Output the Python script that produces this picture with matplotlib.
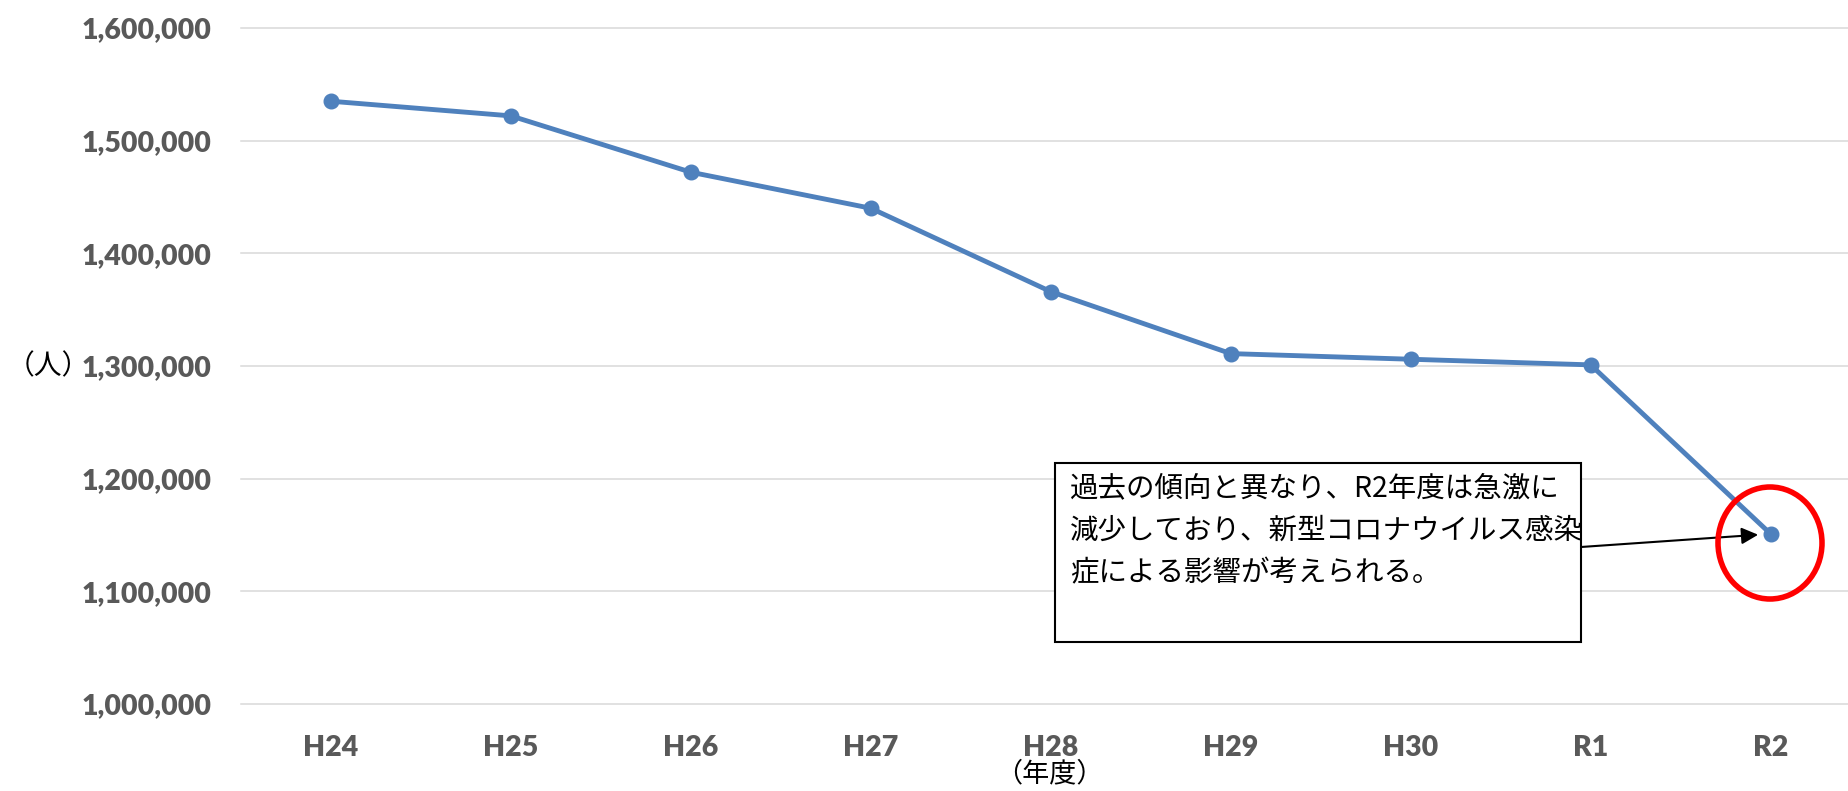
import matplotlib
matplotlib.use("Agg")
import matplotlib.pyplot as plt
from matplotlib.patches import Rectangle, Ellipse
from matplotlib.ticker import FuncFormatter

# data
years = ["H24", "H25", "H26", "H27", "H28", "H29", "H30", "R1", "R2"]
people = [1535000, 1522000, 1472000, 1440000, 1366000, 1311000, 1306000, 1301000, 1151000]
y_ticks = [1000000, 1100000, 1200000, 1300000, 1400000, 1500000, 1600000]

note_lines = ["過去の傾向と異なり、R2年度は急激に",
              "減少しており、新型コロナウイルス感染",
              "症による影響が考えられる。"]

W, H = 1848, 791
JP = ["Noto Sans CJK JP", "DejaVu Sans"]
GREY = "#595959"


def fx(px):
    return px / W


def fy(py):
    # pixel rows counted from the top of the image
    return 1 - py / H


fig = plt.figure(figsize=(W / 100, H / 100), dpi=100)
ax = fig.add_axes([fx(241), fy(704), fx(1848 - 241), (704 - 28) / H])

x = list(range(len(years)))
ax.plot(x, people, color="#4F81BD", lw=3.5, marker="o", markersize=10.5, zorder=3)

ax.set_xlim(-0.5, 8.43)
ax.set_ylim(y_ticks[0], y_ticks[-1])
ax.set_yticks(y_ticks)
ax.yaxis.set_major_formatter(FuncFormatter(lambda v, p: "{:,.0f}".format(v)))
ax.set_xticks(x)
ax.set_xticklabels(years)

for s in ax.spines.values():
    s.set_visible(False)
ax.grid(axis="y", color="#D9D9D9", lw=1.1)
ax.set_axisbelow(True)
for g in ax.get_ygridlines():
    g.set_clip_on(False)

ax.tick_params(axis="both", length=0, colors=GREY, labelsize=20.5)
ax.tick_params(axis="y", pad=21)
ax.tick_params(axis="x", pad=22)
for lab in ax.get_xticklabels() + ax.get_yticklabels():
    lab.set_fontfamily("Lato")
    lab.set_fontweight("heavy")

# axis titles
fig.text(fx(48), fy(366), "（人）", family=JP, fontsize=20, ha="center", va="center")
fig.text(fx(1049), fy(774), "（年度）", family=JP, fontsize=19.5, ha="center", va="center")

# note box
box = Rectangle((fx(1055), fy(642)), fx(1581 - 1055), (642 - 463) / H,
                transform=fig.transFigure, facecolor="white", edgecolor="black",
                lw=1.5, zorder=5)
fig.patches.append(box)
for i, t in enumerate(note_lines):
    fig.text(fx(1070), fy(488 + i * 42.5), t, family=JP, fontsize=20.5,
             ha="left", va="center", zorder=6)

# arrow to the last point
ax.annotate("", xy=(x[-1], people[-1]), xytext=(fx(1581), fy(547)),
            textcoords="figure fraction",
            arrowprops=dict(arrowstyle="-|>", color="black", lw=1.5,
                            mutation_scale=25, shrinkA=0, shrinkB=9),
            zorder=6)

# red circle around R2
circ = Ellipse((fx(1770), fy(543)), fx(104), 112 / H, transform=fig.transFigure,
               fill=False, edgecolor="#FF0000", lw=4, zorder=6)
fig.patches.append(circ)

fig.savefig("out.png", dpi=100)
